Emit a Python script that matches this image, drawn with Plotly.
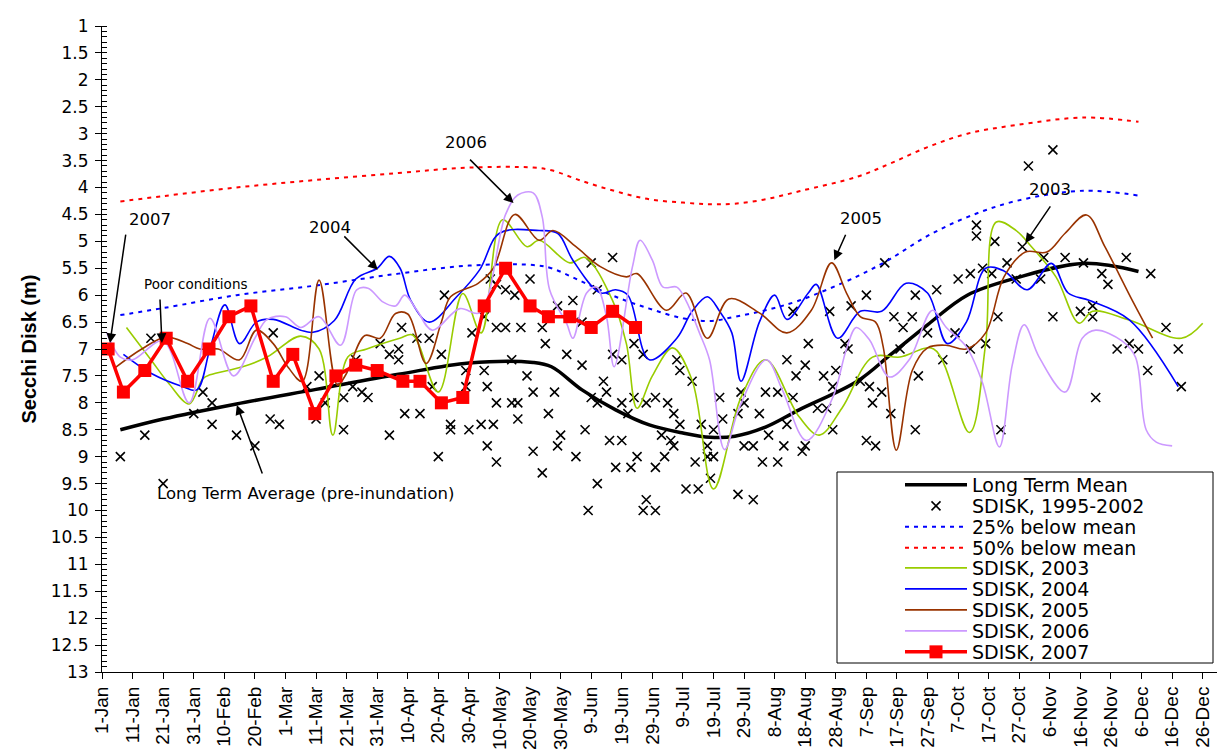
import plotly.graph_objects as go

# ---------------- axis labels ----------------
tick_days = list(range(0, 361, 10))
tick_labels = ["1-Jan", "11-Jan", "21-Jan", "31-Jan", "10-Feb", "20-Feb", "1-Mar", "11-Mar",
               "21-Mar", "31-Mar", "10-Apr", "20-Apr", "30-Apr", "10-May", "20-May", "30-May",
               "9-Jun", "19-Jun", "29-Jun", "9-Jul", "19-Jul", "29-Jul", "8-Aug", "18-Aug",
               "28-Aug", "7-Sep", "17-Sep", "27-Sep", "7-Oct", "17-Oct", "27-Oct", "6-Nov",
               "16-Nov", "26-Nov", "6-Dec", "16-Dec", "26-Dec"]
y_ticks = [1 + 0.5 * i for i in range(25)]
y_tick_labels = ["1", "1.5", "2", "2.5", "3", "3.5", "4", "4.5", "5", "5.5", "6", "6.5", "7",
                 "7.5", "8", "8.5", "9", "9.5", "10", "10.5", "11", "11.5", "12", "12.5", "13"]

# ---------------- long-term mean & thresholds (day of year, depth m) ----------------
mean_days = [6, 20, 44, 70, 97, 120, 141, 147, 157, 168, 179, 190, 199, 207, 217, 228,
             247, 258, 270, 283, 299, 321, 339]
long_term_mean = [8.5, 8.3, 8.02, 7.75, 7.47, 7.26, 7.25, 7.33, 7.76, 8.13, 8.41, 8.56, 8.64,
                  8.62, 8.45, 8.13, 7.6, 7.1, 6.55, 6.0, 5.68, 5.41, 5.56]
below_25 = [6.37, 6.24, 6.0, 5.82, 5.6, 5.45, 5.44, 5.5, 5.75, 6.03, 6.25, 6.43, 6.48, 6.4,
            6.28, 6.1, 5.65, 5.32, 4.9, 4.55, 4.25, 4.06, 4.15]
below_50 = [4.26, 4.16, 4.0, 3.86, 3.73, 3.63, 3.63, 3.68, 3.88, 4.07, 4.22, 4.28, 4.31, 4.3,
            4.22, 4.07, 3.8, 3.55, 3.25, 3.0, 2.84, 2.7, 2.78]

# ---------------- SDISK 1995-2002 observations ----------------
sdisk_days = [6, 14, 20, 16, 30, 33, 36, 36, 44, 50, 56, 55, 58, 67, 70, 71, 73, 79, 79, 82,
              83, 85, 87, 94, 91, 94, 97, 97, 98, 99, 104, 103, 107, 111, 112, 108, 114, 114,
              110, 119, 120, 121, 119, 124, 128, 126, 125, 125, 126, 129, 127, 129, 132, 135,
              129, 132, 137, 144, 140, 134, 129, 134, 136, 136, 139, 141, 141, 144, 145, 146,
              148, 149, 150, 149, 152, 154, 157, 158, 155, 159, 162, 157, 160, 167, 162, 160,
              162, 164, 165, 166, 170, 168, 173, 167, 170, 170, 172, 174, 174, 177, 175, 178,
              181, 181, 178, 177, 181, 184, 185, 187, 189, 188, 189, 193, 183, 186, 187, 194,
              196, 191, 195, 198, 199, 198, 200, 202, 208, 213, 209, 210, 208, 215, 217, 221,
              226, 203, 200, 210, 213, 218, 223, 216, 221, 224, 230, 227, 236, 240, 231, 226,
              224, 229, 230, 234, 237, 239, 239, 248, 251, 252, 255, 258, 250, 253, 238, 245,
              250, 243, 244, 256, 259, 262, 265, 266, 273, 261, 270, 279, 275, 267, 266, 284,
              289, 293, 280, 284, 288, 291, 296, 294, 286, 286, 292, 301, 303, 311, 299, 307,
              308, 315, 321, 327, 329, 335, 343, 311, 320, 324, 324, 348, 332, 336, 339, 352,
              342, 353, 325]
sdisk_depth = [9.0, 8.6, 9.5, 6.8, 8.2, 7.8, 8.0, 8.4, 8.6, 8.8, 6.7, 8.3, 8.4, 7.7, 8.3, 7.5,
               8.0, 8.5, 7.9, 7.7, 7.2, 7.8, 7.9, 8.6, 6.9, 7.1, 7.2, 7.0, 6.6, 8.2, 8.2, 6.8,
               6.8, 7.1, 6.0, 7.7, 8.4, 8.5, 9.0, 7.7, 8.5, 6.7, 7.4, 8.4, 8.4, 7.7, 7.4, 6.4,
               8.8, 9.1, 5.7, 5.8, 5.9, 6.0, 6.6, 6.6, 6.6, 6.6, 5.7, 7.2, 8.0, 8.0, 8.0, 8.3,
               7.5, 7.8, 8.9, 9.3, 6.9, 8.2, 7.8, 8.8, 8.6, 6.2, 7.1, 6.1, 7.3, 8.5, 9.0, 10.0,
               9.5, 6.5, 5.4, 5.3, 5.9, 7.9, 8.0, 7.6, 7.8, 8.7, 8.7, 9.2, 9.2, 7.1, 7.2, 8.0,
               8.2, 7.9, 6.9, 7.1, 9.0, 8.0, 7.9, 9.2, 9.8, 10.0, 10.0, 9.0, 8.0, 8.2, 8.4, 7.2,
               7.4, 7.6, 8.6, 8.7, 8.8, 9.1, 8.4, 9.6, 9.6, 8.8, 9.4, 9.0, 9.0, 7.9, 9.7, 9.8,
               7.8, 8.0, 8.2, 8.2, 7.8, 7.8, 7.9, 8.3, 8.5, 8.8, 8.8, 8.6, 8.8, 9.1, 9.1, 7.2,
               7.3, 7.5, 7.5, 7.4, 6.9, 6.3, 8.4, 8.9, 8.8, 8.1, 8.1, 7.7, 8.5, 7.6, 7.7, 8.0,
               7.8, 8.2, 8.7, 8.8, 6.3, 6.2, 6.0, 6.9, 7.0, 5.4, 6.4, 6.6, 6.4, 6.0, 5.9, 7.0,
               6.7, 6.7, 7.2, 7.5, 8.5, 7.0, 6.9, 6.4, 5.7, 5.6, 5.5, 5.6, 5.4, 8.5, 4.7, 4.9,
               5.0, 5.1, 3.6, 3.3, 5.7, 5.7, 5.3, 5.3, 5.4, 5.6, 5.8, 5.3, 5.6, 6.4, 6.3, 6.2,
               6.4, 6.6, 7.0, 6.9, 7.0, 7.0, 7.4, 7.7, 7.9]

# ---------------- yearly series ----------------
days_2003 = [8, 16, 22, 28.5, 33, 35.3, 46, 54, 65, 71, 75.5, 80.4, 86.6, 97.4, 101.6, 110,
             118, 124, 131, 139, 143, 153, 158, 167, 171.5, 175, 180, 186.6, 193, 200, 209,
             217, 228, 234.6, 242, 252, 261, 272, 283.7, 289, 292.5, 299, 304, 312, 319.6,
             324, 336, 353, 360]
sdisk_2003 = [6.6, 7.2, 7.65, 8.02, 7.55, 7.48, 7.33, 7.15, 6.76, 7.0, 8.6, 7.15, 7.0, 6.8,
              6.74, 7.8, 5.97, 6.7, 4.6, 5.1, 4.98, 5.4, 5.3, 6.1, 6.9, 8.1, 7.5, 6.98, 7.58,
              9.6, 7.9, 7.2, 8.26, 8.6, 8.1, 7.15, 7.15, 7.0, 8.55, 6.9, 4.64, 4.8, 5.1, 5.66,
              6.52, 6.3, 6.46, 6.8, 6.52]

days_2004 = [7, 16, 26.5, 31, 35.3, 40.2, 45, 50.5, 56, 65, 69, 76, 83, 90, 94, 97.5, 101,
             107, 116, 123.5, 130, 143, 149, 154, 163, 168, 172, 179, 188, 193, 198, 202,
             206, 209, 215, 220, 224, 231, 233.6, 240.6, 248, 255, 263, 270, 276.5, 282.7,
             289, 295, 302.6, 310.5, 316, 323, 336, 352]
sdisk_2004 = [7.1, 7.45, 7.7, 7.76, 7.0, 6.18, 6.9, 6.5, 6.45, 6.65, 6.69, 6.47, 5.7, 5.5,
              5.28, 5.5, 6.1, 6.5, 6.03, 5.53, 4.85, 4.8, 4.85, 5.35, 5.96, 5.9, 6.0, 7.2,
              6.8, 6.3, 6.03, 6.3, 6.7, 7.6, 6.5, 6.0, 6.45, 5.96, 5.8, 6.8, 6.3, 6.3, 5.78,
              5.96, 6.9, 6.5, 5.5, 5.55, 5.9, 5.41, 5.96, 6.1, 6.46, 7.7]

days_2005 = [4, 13, 21, 28, 32, 38, 45, 50.5, 56, 61, 65.5, 71, 77, 80, 86, 91, 96, 100, 106,
             111, 114, 123, 128, 135, 143, 147.5, 155, 163, 171.5, 175, 184.6, 191, 198, 205,
             215, 224, 232, 238.6, 243.5, 248, 253, 255.5, 259.8, 265, 270, 276, 282.6, 289,
             295, 302, 309, 315, 322, 328, 337, 343.6]
sdisk_2005 = [7.36, 7.0, 6.78, 6.9, 7.0, 7.0, 7.2, 6.65, 6.9, 7.35, 7.6, 5.72, 7.67, 7.45,
              6.75, 6.8, 6.34, 6.35, 7.27, 6.5, 6.03, 5.78, 5.5, 4.5, 4.98, 4.8, 5.1, 5.47,
              5.66, 5.6, 6.28, 5.96, 6.8, 6.07, 6.33, 6.7, 6.28, 5.4, 5.96, 6.4, 6.5, 6.96,
              8.88, 7.4, 6.98, 6.93, 7.0, 6.7, 5.66, 5.2, 5.2, 4.85, 4.51, 5.1, 6.1, 6.8]

days_2006 = [1.6, 6, 10, 20, 28.5, 35.3, 43, 50, 54, 60, 65, 71, 78, 83.3, 87, 92, 96, 99,
             103, 108, 117, 123.5, 132, 136, 141, 144, 146.4, 152, 154, 158.5, 161.7, 165,
             167.5, 173.5, 176, 180, 183.5, 188, 191, 195.4, 198.7, 203.6, 208.5, 217.3,
             222.5, 230.4, 239, 243.5, 246.7, 251, 257.5, 264, 271.6, 276, 282.7, 288, 293.5,
             297.7, 301.6, 306.5, 315, 320.6, 325, 333.6, 338, 341.5, 344.8, 350]
sdisk_2006 = [6.7, 7.15, 7.2, 6.85, 8.0, 6.43, 7.5, 6.8, 6.45, 6.4, 6.6, 6.4, 6.93, 5.9, 5.87,
              6.13, 6.2, 6.0, 6.28, 6.65, 6.25, 6.33, 4.5, 4.14, 4.1, 4.55, 5.9, 6.53, 6.8,
              5.96, 5.85, 6.4, 7.33, 5.47, 4.98, 5.35, 5.85, 5.85, 6.1, 6.7, 7.2, 8.87, 8.08,
              7.2, 7.76, 8.7, 7.9, 7.0, 6.6, 6.83, 7.52, 7.2, 6.28, 6.59, 6.96, 7.63, 8.82,
              7.3, 6.55, 7.15, 7.8, 6.8, 6.65, 6.85, 7.15, 8.5, 8.73, 8.8]

days_2007 = [2, 7, 14, 21, 28, 35, 41.5, 48.7, 56, 62.4, 69.6, 76.5, 83, 90, 98.4, 104, 111,
             118, 125, 132, 140, 146, 153, 160, 167, 174.5]
sdisk_2007 = [7.0, 7.8, 7.4, 6.8, 7.6, 7.0, 6.4, 6.2, 7.6, 7.1, 8.2, 7.5, 7.3, 7.4, 7.6, 7.6,
              8.0, 7.9, 6.2, 5.5, 6.2, 6.4, 6.4, 6.6, 6.3, 6.6]

# ---------------- layout geometry (window pixels; page body has an 8px margin) ----------------
BODY = 8
WIN_W, WIN_H = 1225, 752
plot_top, plot_bottom, plot_left, plot_right = 26, 672, 102, 1218
FIG_W, FIG_H = WIN_W - BODY, WIN_H - BODY

LEG_FONT = dict(family="DejaVu Sans", size=19, color="black")
row_px = [485, 506, 527, 548, 568, 589, 610, 631, 652]


def leg_y(py):
    return (plot_bottom - py) / (plot_bottom - plot_top)


def leg_x(px):
    return (px - plot_left) / (plot_right - plot_left)


fig = go.Figure()
fig.add_trace(go.Scatter(x=mean_days, y=long_term_mean, mode="lines", name="Long Term Mean",
                         line=dict(color="black", width=3.5, shape="spline"), legend="legend"))
fig.add_trace(go.Scatter(x=sdisk_days, y=sdisk_depth, mode="markers", name="SDISK, 1995-2002",
                         marker=dict(symbol="x-thin", size=9, color="black",
                                     line=dict(color="black", width=1.6)), legend="legend2"))
fig.add_trace(go.Scatter(x=mean_days, y=below_25, mode="lines", name="25% below mean",
                         line=dict(color="#0000FF", width=2, dash="4px,5px", shape="spline"),
                         legend="legend3"))
fig.add_trace(go.Scatter(x=mean_days, y=below_50, mode="lines", name="50% below mean",
                         line=dict(color="#FF0000", width=2, dash="4px,5px", shape="spline"),
                         legend="legend4"))
year_styles = [("SDISK, 2003", days_2003, sdisk_2003, "#99CC00", "legend5"),
               ("SDISK, 2004", days_2004, sdisk_2004, "#0000FF", "legend6"),
               ("SDISK, 2005", days_2005, sdisk_2005, "#993300", "legend7"),
               ("SDISK, 2006", days_2006, sdisk_2006, "#CC99FF", "legend8")]
for name, dx, dy, col, lg in year_styles:
    fig.add_trace(go.Scatter(x=dx, y=dy, mode="lines", name=name,
                             line=dict(color=col, width=1.6, shape="spline", smoothing=1.0),
                             legend=lg))
fig.add_trace(go.Scatter(x=days_2007, y=sdisk_2007, mode="lines+markers", name="SDISK, 2007",
                         line=dict(color="#FF0000", width=3.5),
                         marker=dict(symbol="square", size=13, color="#FF0000"),
                         legend="legend9"))

legends = {}
for i, py in enumerate(row_px):
    key = "legend" if i == 0 else "legend%d" % (i + 1)
    legends[key] = dict(x=leg_x(900), xanchor="left", y=leg_y(py), yanchor="middle",
                        bgcolor="rgba(0,0,0,0)", borderwidth=0, font=LEG_FONT,
                        itemwidth=62, tracegroupgap=0)

# annotations: text labels and arrows
ann_font = dict(family="DejaVu Sans", size=16.5, color="black")
texts = [("2007", 15.7, 4.59, ann_font),
         ("Poor conditions", 30.7, 5.79, dict(family="DejaVu Sans", size=13.5, color="black")),
         ("2004", 74.5, 4.75, ann_font),
         ("2006", 119, 3.17, ann_font),
         ("2005", 248.4, 4.57, ann_font),
         ("2003", 310, 4.03, ann_font),
         ("Long Term Average (pre-inundation)", 66.7, 9.69, ann_font)]
arrows = [(2.6, 6.89, 16, -110), (19.6, 6.89, -2, -45), (90.2, 5.53, -35, -35),
          (134.6, 4.29, -45, -45), (239.5, 5.35, 12, -27), (302, 5.03, 26, -38),
          (44.1, 8.04, 26, 70)]
annotations = []
for t, x, y, f in texts:
    annotations.append(dict(text=t, x=x, y=y, xref="x", yref="y", showarrow=False, font=f))
for x, y, ax, ay in arrows:
    annotations.append(dict(text="", x=x, y=y, xref="x", yref="y", ax=ax, ay=ay,
                            showarrow=True, arrowhead=2, arrowsize=1.3, arrowwidth=1.5,
                            arrowcolor="black"))

fig.update_layout(
    width=FIG_W, height=FIG_H, autosize=False,
    margin=dict(l=plot_left - BODY, r=WIN_W - plot_right, t=plot_top - BODY,
                b=WIN_H - plot_bottom, pad=0),
    paper_bgcolor="white", plot_bgcolor="white",
    showlegend=True,
    xaxis=dict(range=[0, 365], tickvals=tick_days, ticktext=tick_labels, tickangle=-90,
               ticks="outside", ticklen=6, tickcolor="black", showline=True,
               linecolor="black", linewidth=1, showgrid=False, zeroline=False,
               automargin=False,
               tickfont=dict(family="Liberation Sans", size=19, color="black")),
    yaxis=dict(range=[13, 1], tickvals=y_ticks, ticktext=y_tick_labels, ticks="outside",
               ticklen=6, tickcolor="black", showline=True, linecolor="black", linewidth=1,
               showgrid=False, zeroline=False, ticklabelstandoff=3, automargin=False,
               minor=dict(dtick=0.1, ticks="inside", ticklen=5, tickcolor="black"),
               tickfont=dict(family="DejaVu Sans", size=17, color="black"),
               title=dict(text="<b>Secchi Disk (m)</b>", standoff=8,
                          font=dict(family="Liberation Sans", size=20, color="black"))),
    yaxis2=dict(overlaying="y", side="left", anchor="x", range=[13, 1], tickvals=y_ticks,
                ticks="inside", ticklen=5, tickcolor="black", showticklabels=False,
                showline=False, showgrid=False, zeroline=False, automargin=False),
    shapes=[dict(type="rect", xref="paper", yref="paper",
                 x0=leg_x(837), x1=leg_x(1213), y0=leg_y(663), y1=leg_y(472),
                 fillcolor="white", line=dict(color="black", width=1), layer="above")],
    annotations=annotations,
    **legends,
)

fig.write_html("out.html")
